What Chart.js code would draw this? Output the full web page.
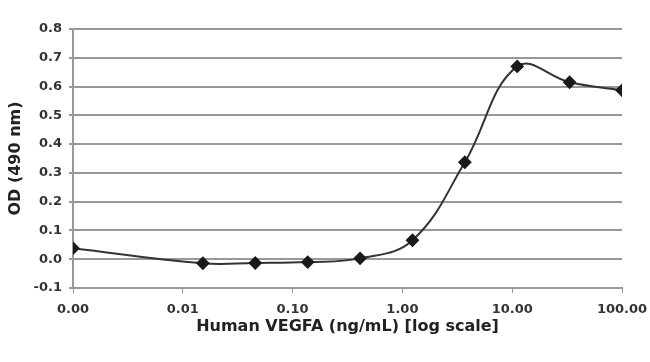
<!DOCTYPE html>
<html>
<head>
<meta charset="UTF-8">
<title>VEGFA dose response</title>
<script src="https://cdn.jsdelivr.net/npm/chart.js@4.4.1/dist/chart.umd.min.js"></script>
<style>
  html, body { margin: 0; padding: 0; background: #fff; }
  #chart-container { width: 650px; height: 362px; }
</style>
</head>
<body>
<div id="chart-container"><canvas id="mycanvas" width="650" height="362"></canvas></div>
<script>
// concentration in ng/mL (the blank is drawn at the 0.00 position, 0.001)
var concentration = [0.001, 0.01524, 0.04572, 0.1372, 0.4115, 1.235, 3.704, 11.11, 33.33, 100];
var od490 = [0.038, -0.014, -0.013, -0.010, 0.003, 0.066, 0.337, 0.670, 0.615, 0.587];
var xTickValues = [0.001, 0.01, 0.1, 1, 10, 100];
var yTickValues = [-0.1, 0, 0.1, 0.2, 0.3, 0.4, 0.5, 0.6, 0.7, 0.8];

var points = [];
for (var i in concentration) {
  points.push({ x: concentration[i], y: od490[i] });
}

var gridGray = '#999';
var fontFamily = '"DejaVu Sans", Verdana, sans-serif';
var tickFont = { family: fontFamily, size: 13, weight: 'bold' };

new Chart(document.getElementById('mycanvas'), {
  type: 'line',
  data: {
    datasets: [{
      data: points,
      borderColor: '#333',
      borderWidth: 2,
      tension: 0.4,
      pointStyle: 'rectRot',
      pointRadius: 5.5,
      pointBackgroundColor: '#1a1a1a',
      pointBorderColor: '#1a1a1a',
      fill: false
    }]
  },
  options: {
    responsive: false,
    animation: false,
    layout: { padding: { left: 6, right: 28, top: 29, bottom: 26 } },
    plugins: { legend: { display: false }, tooltip: { enabled: false } },
    scales: {
      x: {
        type: 'logarithmic',
        min: 0.001,
        max: 100,
        afterBuildTicks: function(axis) {
          axis.ticks = xTickValues.map(function(v) { return { value: v }; });
        },
        afterFit: function(axis) {
          axis.height = 48;
          axis.paddingLeft = 0;
          axis.paddingRight = 0;
        },
        grid: { drawOnChartArea: false, color: gridGray, tickColor: gridGray, tickLength: 5, lineWidth: 1 },
        border: { display: true, color: gridGray, width: 2 },
        ticks: {
          color: '#333',
          font: tickFont,
          padding: 9,
          maxRotation: 0,
          autoSkip: false,
          callback: function(v) { return Number(v).toFixed(2); }
        },
        title: {
          display: true,
          text: 'Human VEGFA (ng/mL) [log scale]',
          color: '#222',
          font: { family: fontFamily, size: 16, weight: 'bold' },
          padding: { top: 0, bottom: 0 }
        }
      },
      y: {
        min: -0.1,
        max: 0.8,
        afterBuildTicks: function(axis) {
          axis.ticks = yTickValues.map(function(v) { return { value: v }; });
        },
        afterFit: function(axis) {
          axis.width = 67;
          axis.paddingTop = 0;
          axis.paddingBottom = 0;
        },
        grid: { color: gridGray, lineWidth: 2, tickLength: 4 },
        border: { display: true, color: gridGray, width: 2 },
        ticks: {
          color: '#333',
          font: tickFont,
          padding: 7,
          callback: function(v) { return Number(v).toFixed(1); }
        },
        title: {
          display: true,
          text: 'OD (490 nm)',
          color: '#222',
          font: { family: fontFamily, size: 16, weight: 'bold' },
          padding: { top: 0, bottom: 4 }
        }
      }
    }
  }
});
</script>
</body>
</html>
